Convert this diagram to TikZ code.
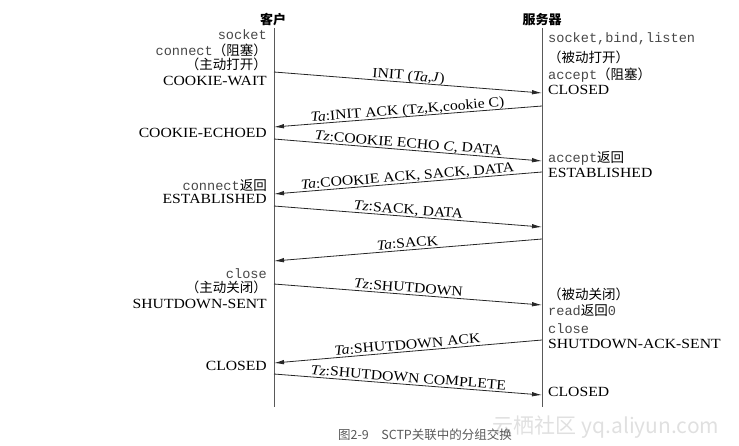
\documentclass[tikz,border=0pt]{standalone}
\usepackage{fontspec}
\setmainfont{Liberation Serif}[FakeStretch=1.12]
\setmonofont{Liberation Mono}
\newfontfamily\cjk{Noto Sans CJK SC}
\usepackage{tikz}
\usetikzlibrary{arrows.meta,positioning,calc}

\newcommand{\zh}[1]{{\cjk\fontsize{13.5}{15}\selectfont #1}}
\newcommand{\code}[1]{{\ttfamily\fontsize{13.6}{15}\selectfont\color{black!72}#1}}

\begin{document}
\begin{tikzpicture}[x=1pt, y=-1pt,
  every node/.style={font=\fontsize{14}{16}\selectfont, inner sep=0pt},
  life/.style={draw=black!65, line width=0.8pt},
  msg/.style={draw=black!85, line width=0.8pt, -{Latex[length=10pt,width=4.5pt]}},
  lbl/.style={midway, sloped, above=2pt, text depth=0pt, font=\fontsize{14}{16}\selectfont},
  cstate/.style={anchor=mid east},
  sstate/.style={anchor=mid west}]
\useasboundingbox (0,0) rectangle (739,445);

% the two ends
\node[font=\cjk\bfseries\fontsize{13}{15}\selectfont] (cli) at (273,20) {客户};
\node[font=\cjk\bfseries\fontsize{13}{15}\selectfont] (srv) at (542,20) {服务器};
\coordinate (cTop) at (274,28);
\coordinate (cBot) at (274,407);
\coordinate (sTop) at (542,28);
\coordinate (sBot) at (542,407);
\draw[life] (cTop) -- (cBot);
\draw[life] (sTop) -- (sBot);

% client side
\foreach \nm/\y/\txt in {cSock/37/\code{socket},
    cConn/53/{\code{connect}\zh{（阻塞）}},
    cOpen/67/\zh{（主动打开）},
    cWait/83/COOKIE-WAIT,
    cEcho/135/COOKIE-ECHOED,
    cRet/188/{\code{connect}\zh{返回}},
    cEst/201/ESTABLISHED,
    cClose/276/\code{close},
    cActv/290/\zh{（主动关闭）},
    cSent/306/SHUTDOWN-SENT,
    cDone/368/CLOSED} {
  \node[cstate] (\nm) at (267,\y) {\txt};
}

% server side
\foreach \nm/\y/\txt in {sSock/40/\code{socket,bind,listen},
    sOpen/60/\zh{（被动打开）},
    sAcc/77/{\code{accept}\zh{（阻塞）}},
    sClosed/92/CLOSED,
    sRet/160/{\code{accept}\zh{返回}},
    sEst/175/ESTABLISHED,
    sPass/297/\zh{（被动关闭）},
    sRead/313/{\code{read}\zh{返回}\code{0}},
    sClose/331/\code{close},
    sAck/346/SHUTDOWN-ACK-SENT,
    sDone/394/CLOSED} {
  \node[sstate] (\nm) at (548,\y) {\txt};
}

% message ends
\foreach \n/\yc/\ys in {1/72/93, 2/127/106, 3/139/161, 4/194/172, 5/206/227,
    6/261/239, 7/284/305, 8/363/340, 9/374/395} {
  \coordinate (c\n) at (274,\yc);
  \coordinate (s\n) at (542,\ys);
}

\draw[msg] (c1) -- node[lbl] {INIT (\textit{Ta},\textit{J})} (s1);
\draw[msg] (s2) -- node[lbl] {\textit{Ta}:INIT ACK (Tz,K,cookie C)} (c2);
\draw[msg] (c3) -- node[lbl] {\textit{Tz}:COOKIE ECHO \textit{C}, DATA} (s3);
\draw[msg] (s4) -- node[lbl] {\textit{Ta}:COOKIE ACK, SACK, DATA} (c4);
\draw[msg] (c5) -- node[lbl] {\textit{Tz}:SACK, DATA} (s5);
\draw[msg] (s6) -- node[lbl] {\textit{Ta}:SACK} (c6);
\draw[msg] (c7) -- node[lbl] {\textit{Tz}:SHUTDOWN} (s7);
\draw[msg] (s8) -- node[lbl] {\textit{Ta}:SHUTDOWN ACK} (c8);
\draw[msg] (c9) -- node[lbl] {\textit{Tz}:SHUTDOWN COMPLETE} (s9);

% caption and mark
\node[font=\cjk\fontsize{21}{24}\selectfont, text=black!12] (mark) at (606,427) {云栖社区 yq.aliyun.com};
\node[font=\cjk\fontsize{12.5}{14}\selectfont, text=black!65] (cap) at (425,435) {图2-9\quad SCTP关联中的分组交换};
\end{tikzpicture}
\end{document}
